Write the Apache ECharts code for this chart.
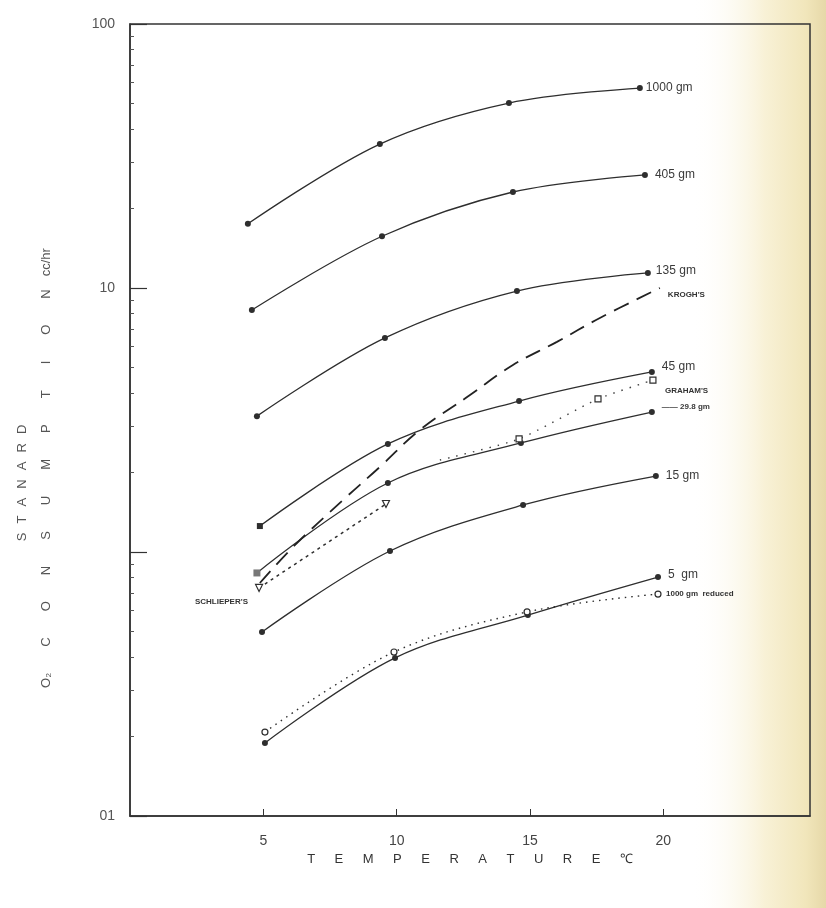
<!DOCTYPE html>
<html><head><meta charset="utf-8">
<script src="https://cdn.jsdelivr.net/npm/echarts@6/dist/echarts.min.js"></script>
<style>html,body{margin:0;padding:0;background:#fff}#c{width:826px;height:908px}</style>
</head><body><div id="c"></div>
<script>
// ---- data (temperature °C, O2 consumption cc/hr) ----
const t1000 = [4.42, 9.37, 14.21, 19.12];
const v1000 = [17.5, 35.1, 50.2, 57.2];
const t405 = [4.57, 9.45, 14.36, 19.31];
const v405 = [8.25, 15.7, 23.1, 26.8];
const t135 = [4.76, 9.56, 14.51, 19.42];
const v135 = [3.27, 6.47, 9.74, 11.4];
const t45 = [4.87, 9.67, 14.59, 19.57];
const v45 = [1.254, 2.566, 3.73, 4.81];
const t298 = [4.76, 9.67, 14.66, 19.57];
const v298 = [0.833, 1.825, 2.588, 3.39];
const t15 = [4.95, 9.75, 14.74, 19.72];
const v15 = [0.498, 1.009, 1.507, 1.94];
const t5 = [5.06, 9.94, 14.92, 19.80];
const v5 = [0.189, 0.397, 0.577, 0.804];
const tReduced = [5.06, 9.90, 14.89, 19.80];
const vReduced = [0.208, 0.418, 0.593, 0.693];
const tGraham = [11.62, 14.59, 17.55, 19.61];
const vGraham = [2.23, 2.68, 3.80, 4.48];
const tSchlieper = [4.84, 9.60];
const vSchlieper = [0.731, 1.52];
const tKrogh = [4.87, 6.11, 7.99, 9.37, 10.87, 12.75, 14.36, 16.01, 17.62, 19.87];
const vKrogh = [0.763, 1.044, 1.574, 2.10, 2.90, 3.93, 5.11, 6.25, 7.70, 10.0];

const xTickValues = [5, 10, 15, 20];
const yMajorTicks = [0.1, 1, 10, 100];
const yTickText = ['01', '', '10', '100'];
const yMinorTicks = [0.2, 0.3, 0.4, 0.5, 0.6, 0.7, 0.8, 0.9, 2, 3, 4, 5, 6, 7, 8, 9, 20, 30, 40, 50, 60, 70, 80, 90];

const seriesNames = ['1000 gm', '405 gm', '135 gm', '45 gm', '29.8 gm', '15 gm', '5 gm', '1000 gm reduced', "GRAHAM'S", "SCHLIEPER'S", "KROGH'S"];

// ---- build ----
const ink = '#2e2e2e';
const zip = (t, v) => t.map((x, i) => [x, v[i]]);
const font = 'Liberation Sans';

function solid(name, t, v, lab, extra) {
  return Object.assign({
    name, type: 'line', data: zip(t, v), smooth: 0.35,
    symbol: 'circle', symbolSize: 6,
    itemStyle: { color: ink },
    lineStyle: { color: ink, width: 1.3 },
    endLabel: Object.assign({ show: true, formatter: lab.text || name, color: '#3a3a3a',
      fontSize: 12, fontFamily: font, distance: 8 }, lab),
    z: 3
  }, extra || {});
}

const s45 = solid(seriesNames[3], t45, v45, { offset: [2, -5] });
s45.data[0] = { value: s45.data[0], symbol: 'rect', symbolSize: 6 };
const s298 = solid(seriesNames[4], t298, v298, { text: '—— 29.8 gm', fontSize: 8, fontWeight: 'bold', offset: [2, -5] });
s298.data[0] = { value: s298.data[0], symbol: 'rect', symbolSize: 7, itemStyle: { color: '#777' } };

const grahamData = zip(tGraham, vGraham);
grahamData[0] = { value: grahamData[0], symbol: 'none' };

const schData = zip(tSchlieper, vSchlieper);
schData[0] = { value: schData[0], label: { show: true, position: 'left', formatter: seriesNames[9],
  fontSize: 8, fontWeight: 'bold', color: '#333', fontFamily: font, offset: [-2, 14] } };

const series = [
  solid(seriesNames[0], t1000, v1000, { distance: 6 }),
  solid(seriesNames[1], t405, v405, { distance: 10 }),
  solid(seriesNames[2], t135, v135, { distance: 8, offset: [0, -2] }),
  s45, s298,
  solid(seriesNames[5], t15, v15, { distance: 10 }),
  solid(seriesNames[6], t5, v5, { text: '5  gm', distance: 10, offset: [0, -2] }),
  {
    name: seriesNames[7], type: 'line', data: zip(tReduced, vReduced), smooth: 0.35,
    symbol: 'circle', symbolSize: 6, itemStyle: { color: '#fff', borderColor: ink, borderWidth: 1.2 },
    lineStyle: { color: ink, width: 1.4, type: [1.5, 5] },
    endLabel: { show: true, formatter: '1000 gm  reduced', fontSize: 8, fontWeight: 'bold', color: '#333', fontFamily: font, distance: 8 },
    z: 4
  },
  {
    name: seriesNames[8], type: 'line', data: grahamData, smooth: 0.2,
    symbol: 'rect', symbolSize: 6, itemStyle: { color: '#fff', borderColor: ink, borderWidth: 1.2 },
    lineStyle: { color: '#444', width: 1.4, type: [1.5, 7] },
    endLabel: { show: true, formatter: "GRAHAM'S", fontSize: 8, fontWeight: 'bold', color: '#333', fontFamily: font, distance: 12, offset: [0, 11] },
    z: 4
  },
  {
    name: seriesNames[9], type: 'line', data: schData,
    symbol: 'triangle', symbolRotate: 180, symbolSize: 7,
    itemStyle: { color: '#fff', borderColor: ink, borderWidth: 1.2 },
    lineStyle: { color: ink, width: 1.5, type: [3, 4] },
    z: 4
  },
  {
    name: seriesNames[10], type: 'line', data: zip(tKrogh, vKrogh), smooth: 0.4,
    symbol: 'none', lineStyle: { color: '#222', width: 1.8, type: [16, 9] },
    endLabel: { show: true, formatter: "KROGH'S", fontSize: 8, fontWeight: 'bold', color: '#333', fontFamily: font, distance: 8, offset: [0, 7] },
    z: 4
  }
];

const sp = (s, gap) => s.split('').join(gap);

const chart = echarts.init(document.getElementById('c'), null, { renderer: 'canvas' });
chart.setOption({
  backgroundColor: '#ffffff',
  animation: false,
  grid: { left: 130, right: 16, top: 24, bottom: 92, show: true, borderColor: '#333', borderWidth: 1.5, backgroundColor: 'transparent' },
  xAxis: {
    type: 'value', min: 0, max: 25.5,
    name: sp('TEMPERATURE', '\u2003\u2002') + '\u2003\u2002\u2103', nameLocation: 'middle', nameGap: 37,
    nameTextStyle: { fontSize: 13, color: '#333', fontFamily: font },
    axisLine: { lineStyle: { color: '#333', width: 1.5 } },
    axisTick: { inside: true, length: 7, customValues: xTickValues, lineStyle: { color: '#333' } },
    axisLabel: { customValues: xTickValues, fontSize: 14, color: '#444', margin: 18, fontFamily: font },
    splitLine: { show: false }
  },
  yAxis: [
    {
      type: 'log', logBase: 10, min: 0.1, max: 100,
      axisLine: { show: true, lineStyle: { color: '#333', width: 1.5 } },
      axisTick: { inside: true, length: 17, customValues: yMajorTicks, lineStyle: { color: '#333', width: 1.2 } },
      axisLabel: {
        customValues: yMajorTicks, fontSize: 14, color: '#555', margin: 15, fontFamily: font,
        formatter: v => yTickText[Math.round(Math.log10(v)) + 1]
      },
      splitLine: { show: false }
    },
    {
      type: 'log', logBase: 10, min: 0.1, max: 100, position: 'left',
      axisLine: { show: false },
      axisTick: { inside: true, length: 4, customValues: yMinorTicks, lineStyle: { color: '#555' } },
      axisLabel: { show: false },
      splitLine: { show: false }
    }
  ],
  graphic: [
    {
      type: 'rect', left: 690, top: 0, z: -100, silent: true,
      shape: { width: 136, height: 908 },
      style: { fill: new echarts.graphic.LinearGradient(0, 0, 1, 0, [
        { offset: 0, color: 'rgba(255,255,255,0)' },
        { offset: 0.55, color: '#f8f1d6' },
        { offset: 0.85, color: '#f1e6bb' },
        { offset: 1, color: '#e6d8a8' }
      ]) }
    },
    {
      type: 'text', x: 22, y: 483, rotation: Math.PI / 2, silent: true,
      style: { text: sp('STANARD', '\u2002\u2009'), fontSize: 13, fill: '#555', fontFamily: font, align: 'center', verticalAlign: 'middle' }
    },
    {
      type: 'text', x: 46, y: 468, rotation: Math.PI / 2, silent: true,
      style: { text: 'O\u2082\u2003\u2003' + sp('CONSUMPTION', '\u2003\u2003') + '\u2003cc/hr', fontSize: 13, fill: '#555', fontFamily: font, align: 'center', verticalAlign: 'middle' }
    }
  ],
  series: series.map(s => Object.assign({ yAxisIndex: 0 }, s))
});
</script></body></html>
